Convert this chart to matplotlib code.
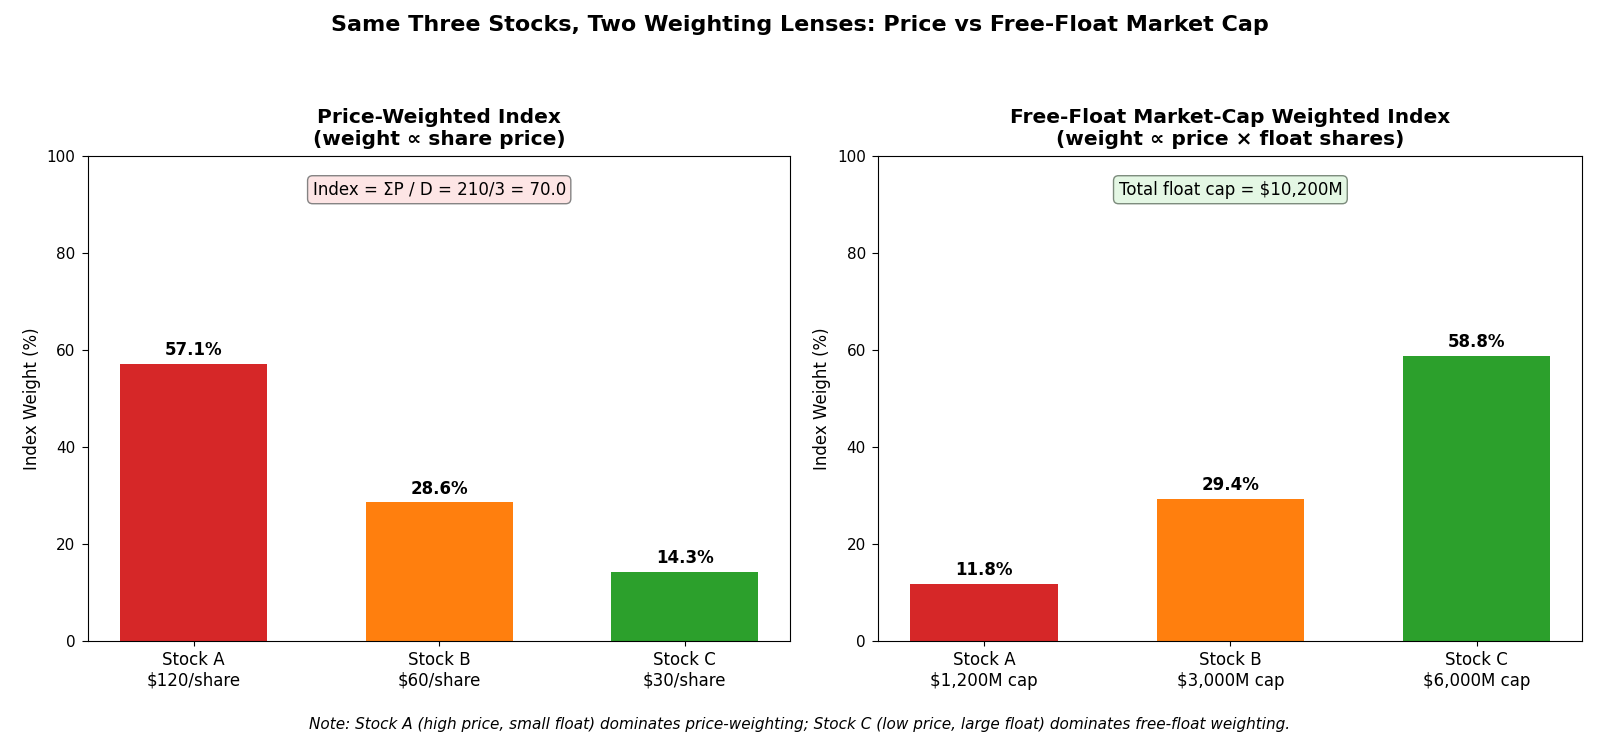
import matplotlib
matplotlib.use("Agg")
import matplotlib.pyplot as plt

# stock data
stocks = ["Stock A", "Stock B", "Stock C"]
prices = [120, 60, 30]
float_caps = [1200, 3000, 6000]  # $M
colors = ["#d62728", "#ff7f0e", "#2ca02c"]

price_weights = [57.1, 28.6, 14.3]
cap_weights = [11.8, 29.4, 58.8]

price_labels = ["Stock A\n$120/share", "Stock B\n$60/share", "Stock C\n$30/share"]
cap_labels = ["Stock A\n$1,200M cap", "Stock B\n$3,000M cap", "Stock C\n$6,000M cap"]

fig = plt.figure(figsize=(16, 7.38), dpi=100)
ax1 = fig.add_axes([0.055, 0.131, 0.439, 0.658])
ax2 = fig.add_axes([0.549, 0.131, 0.440, 0.658])

fig.suptitle("Same Three Stocks, Two Weighting Lenses: Price vs Free-Float Market Cap",
             fontsize=16, fontweight="bold", y=0.979)

def draw(ax, weights, labels, title, note, boxcolor, edgecolor):
    x = list(range(len(weights)))
    bars = ax.bar(x, weights, width=0.6, color=colors)
    for b, w in zip(bars, weights):
        ax.text(b.get_x() + b.get_width() / 2, w + 1, "%.1f%%" % w,
                ha="center", va="bottom", fontsize=12, fontweight="bold")
    ax.set_xticks(x)
    ax.set_xticklabels(labels, fontsize=12)
    ax.set_ylim(0, 100)
    ax.tick_params(axis="y", labelsize=11, length=4.5, pad=4.5)
    ax.set_ylabel("Index Weight (%)", fontsize=12)
    ax.set_title(title, fontsize=14.5, fontweight="bold", pad=8)
    ax.text(0.5, 0.93, note, transform=ax.transAxes, ha="center", va="center",
            fontsize=12,
            bbox=dict(boxstyle="round,pad=0.3", facecolor=boxcolor,
                      edgecolor=edgecolor, alpha=0.9))

draw(ax1, price_weights, price_labels,
     "Price-Weighted Index\n(weight \u221d share price)",
     "Index = \u03a3P / D = 210/3 = 70.0", "#fde3e3", "#777777")
draw(ax2, cap_weights, cap_labels,
     "Free-Float Market-Cap Weighted Index\n(weight \u221d price \u00d7 float shares)",
     "Total float cap = $10,200M", "#e2f7e2", "#6f7f6f")

fig.text(0.5, 0.018,
         "Note: Stock A (high price, small float) dominates price-weighting; "
         "Stock C (low price, large float) dominates free-float weighting.",
         ha="center", va="center", fontsize=11, style="italic")

fig.savefig("out.png", dpi=100)
